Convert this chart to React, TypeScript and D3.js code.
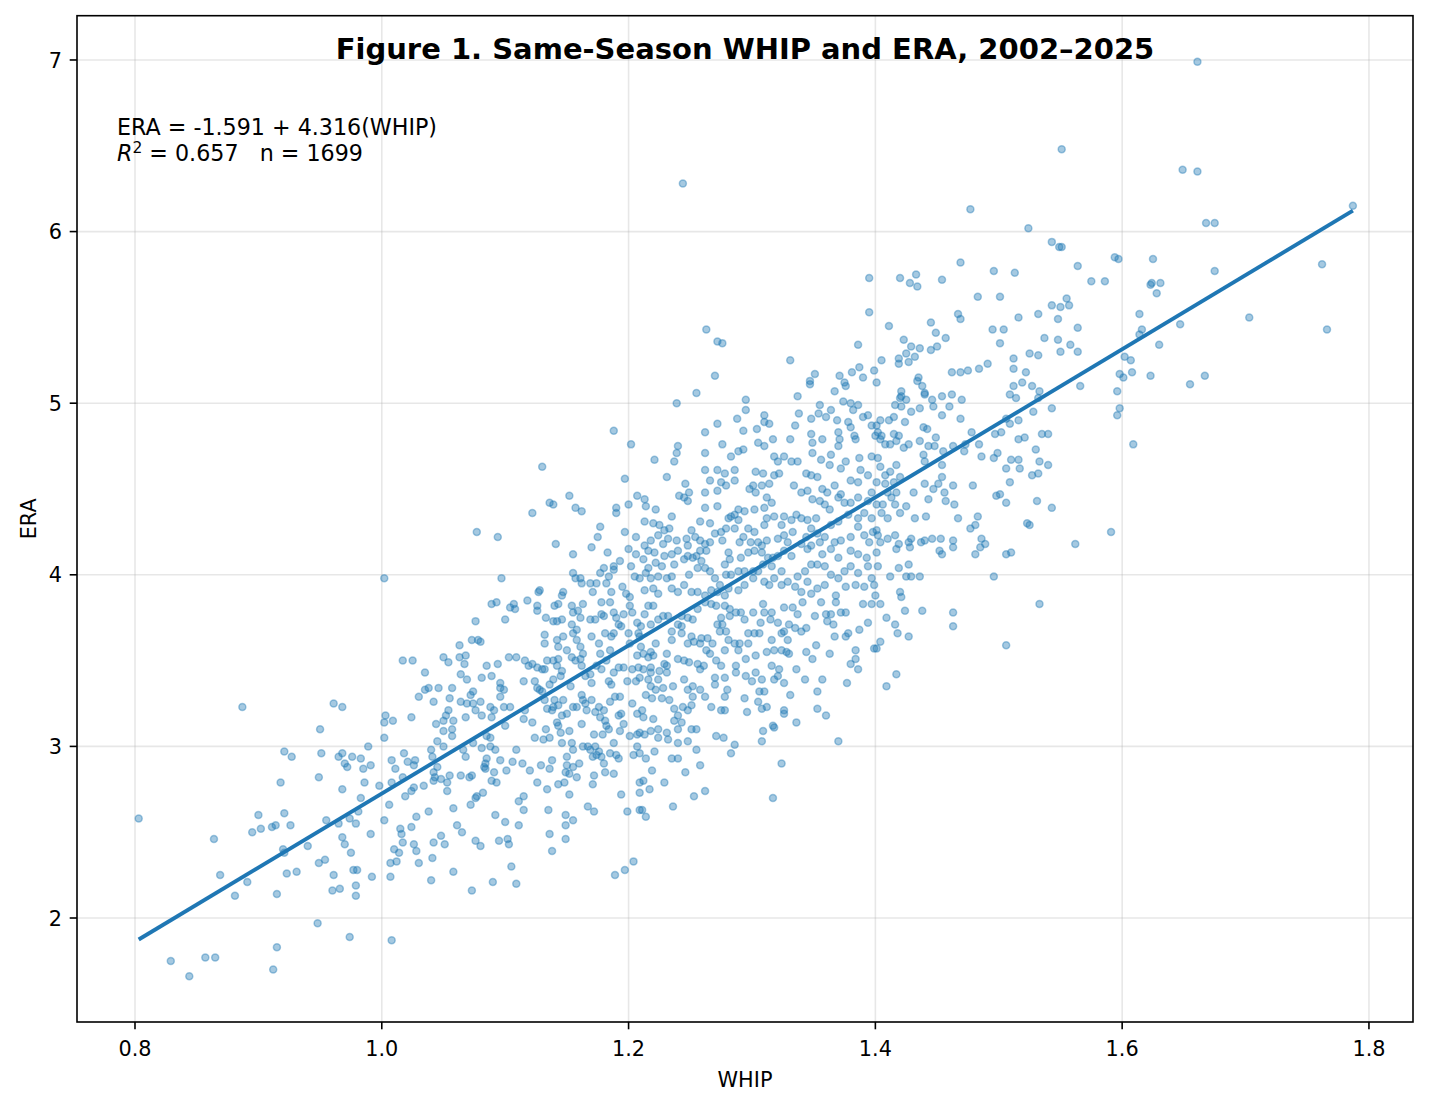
import React from 'react';
import * as d3 from 'd3';

type Pt = [number, number]; // [WHIP, ERA]

const W = 1429;
const H = 1108;
const plot = { left: 77, right: 1413, top: 15.7, bottom: 1022 };
const xDomain: [number, number] = [0.753, 1.8357];
const yDomain: [number, number] = [1.394, 7.258];
const xTicks = [0.8, 1.0, 1.2, 1.4, 1.6, 1.8];
const yTicks = [2, 3, 4, 5, 6, 7];
const intercept = -1.591;
const slope = 4.316;
const rSquared = 0.657;
const sampleSize = 1699;
const titleText = 'Figure 1. Same-Season WHIP and ERA, 2002–2025';

const lowWhipSeasons: Pt[] = [
[0.803,2.58],[0.887,3.23],[0.961,3.25],[0.968,3.23],[1.003,3.18],[1.002,3.14],[1.009,3.15],[1.024,3.17],[1.030,3.29],[0.950,3.10],[1.002,3.05],[0.921,2.97],[0.927,2.94],[0.951,2.96],[0.965,2.94],[0.968,2.96],[0.970,2.90],[0.972,2.88],[0.976,2.94],[0.983,2.93],[0.985,2.87],[0.991,2.89],[0.989,3.00],[1.008,2.92],[1.011,2.87],[1.018,2.96],[1.021,2.91],[1.026,2.89],[1.027,2.92],[0.949,2.82],[0.918,2.79],[0.968,2.75],[0.986,2.79],[0.998,2.77],[1.008,2.79],[1.017,2.82],[1.026,2.76],[0.983,2.70],[1.006,2.66],[1.019,2.71],[1.024,2.74],[0.981,2.62],[1.028,2.59],[0.900,2.60],[0.921,2.61],[0.895,2.50],[0.902,2.52],[0.911,2.53],[0.914,2.54],[0.926,2.54],[0.864,2.46],[0.955,2.57],[0.965,2.55],[0.974,2.58],[0.979,2.55],[1.002,2.57],[0.940,2.42],[0.920,2.40],[0.921,2.38],[0.968,2.47],[0.970,2.43],[0.975,2.38],[0.991,2.49],[1.015,2.52],[1.024,2.53],[1.016,2.49],[1.017,2.44],[1.026,2.43],[1.028,2.39],[1.010,2.40],[1.014,2.38],[1.012,2.33],[1.007,2.32],[1.030,2.32],[0.949,2.32],[0.954,2.34],[0.977,2.28],[0.980,2.28],[0.992,2.24],[1.007,2.24],[0.869,2.25],[0.891,2.21],[0.923,2.26],[0.931,2.27],[0.961,2.25],[0.881,2.13],[0.915,2.14],[0.960,2.16],[0.966,2.17],[0.979,2.19],[0.979,2.13],[0.948,1.97],[0.974,1.89],[1.008,1.87],[0.915,1.83],[0.829,1.75],[0.857,1.77],[0.865,1.77],[0.844,1.66],[0.912,1.70],[1.002,3.98],[1.017,3.50]
];

const whip102to121Lower: Pt[] = [
[1.073,2.16],[1.090,2.21],[1.109,2.20],[1.040,2.22],[1.058,2.27],[1.105,2.30],[1.189,2.25],[1.197,2.28],[1.204,2.33],[1.041,2.35],[1.042,2.44],[1.048,2.48],[1.051,2.43],[1.076,2.45],[1.080,2.42],[1.095,2.45],[1.102,2.46],[1.103,2.43],[1.136,2.49],[1.138,2.39],[1.149,2.46],[1.149,2.54],[1.155,2.57],[1.149,2.60],[1.135,2.63],[1.111,2.54],[1.100,2.56],[1.092,2.60],[1.061,2.54],[1.065,2.50],[1.038,2.62],[1.058,2.64],[1.072,2.66],[1.076,2.70],[1.077,2.71],[1.082,2.73],[1.111,2.68],[1.115,2.71],[1.115,2.63],[1.167,2.65],[1.172,2.62],[1.199,2.62],[1.209,2.63],[1.194,2.72],[1.152,2.72],[1.134,2.75],[1.126,2.79],[1.143,2.78],[1.148,2.79],[1.171,2.78],[1.172,2.83],[1.158,2.82],[1.152,2.84],[1.149,2.85],[1.155,2.88],[1.160,2.90],[1.150,2.89],[1.138,2.92],[1.136,2.87],[1.129,2.89],[1.120,2.86],[1.114,2.90],[1.106,2.91],[1.101,2.86],[1.096,2.92],[1.093,2.79],[1.089,2.80],[1.091,2.85],[1.084,2.87],[1.083,2.88],[1.084,2.90],[1.085,2.93],[1.073,2.83],[1.071,2.82],[1.064,2.83],[1.055,2.83],[1.053,2.79],[1.053,2.74],[1.048,2.81],[1.043,2.82],[1.042,2.80],[1.034,2.77],[1.045,2.88],[1.042,2.85],[1.188,2.84],[1.181,2.85],[1.180,2.90],[1.190,2.95],[1.192,2.93],[1.185,2.96],[1.174,2.95],[1.169,2.98],[1.171,2.94],[1.178,2.94],[1.204,2.95],[1.209,2.96],[1.209,2.79],[1.209,2.73],
[1.066,2.98],[1.068,2.94],[1.074,3.02],[1.081,2.99],[1.088,3.00],[1.092,2.98],[1.085,3.06],[1.088,3.05],[1.050,3.00],[1.045,3.03],[1.040,2.98],[1.041,2.94],[1.109,2.98],[1.124,3.05],[1.131,3.04],[1.133,3.10],[1.136,3.05],[1.143,3.12],[1.145,3.08],[1.146,3.02],[1.152,3.09],[1.154,3.02],[1.155,2.98],[1.150,2.94],[1.163,3.00],[1.167,3.00],[1.172,3.07],[1.179,3.07],[1.193,3.09],[1.188,3.02],[1.201,3.06],[1.207,3.07],[1.207,3.00],[1.173,3.00],[1.176,2.97]
];

const whip102to121Upper: Pt[] = [
[1.044,3.13],[1.050,3.09],[1.057,3.10],[1.057,3.06],[1.050,3.15],[1.052,3.18],[1.058,3.15],[1.054,3.21],[1.042,3.26],[1.035,3.33],[1.038,3.34],[1.046,3.34],[1.055,3.28],[1.057,3.34],[1.064,3.26],[1.068,3.17],[1.069,3.25],[1.072,3.30],[1.074,3.32],[1.074,3.25],[1.076,3.21],[1.080,3.26],[1.081,3.18],[1.088,3.23],[1.091,3.21],[1.089,3.17],[1.096,3.29],[1.096,3.34],[1.099,3.33],[1.096,3.37],[1.100,3.12],[1.099,3.23],[1.104,3.23],[1.115,3.38],[1.116,3.21],[1.115,3.16],[1.122,3.14],[1.124,3.38],[1.126,3.34],[1.128,3.33],[1.130,3.32],[1.132,3.27],[1.134,3.22],[1.138,3.21],[1.140,3.27],[1.139,3.23],[1.143,3.24],[1.147,3.27],[1.146,3.18],[1.142,3.14],[1.150,3.19],[1.153,3.35],[1.155,3.23],[1.158,3.23],[1.162,3.30],[1.163,3.27],[1.165,3.25],[1.162,3.13],[1.166,3.21],[1.170,3.27],[1.173,3.20],[1.176,3.23],[1.177,3.17],[1.180,3.21],[1.181,3.15],[1.182,3.12],[1.184,3.10],[1.185,3.26],[1.189,3.29],[1.192,3.18],[1.194,3.19],[1.196,3.13],[1.193,3.29],[1.203,3.25],[1.207,3.19],
[1.025,3.50],[1.035,3.43],[1.050,3.52],[1.054,3.49],[1.063,3.52],[1.067,3.48],[1.068,3.53],[1.064,3.42],[1.069,3.39],[1.081,3.40],[1.085,3.47],[1.089,3.41],[1.094,3.48],[1.103,3.52],[1.109,3.52],[1.116,3.50],[1.119,3.47],[1.122,3.48],[1.126,3.46],[1.130,3.45],[1.132,3.45],[1.134,3.50],[1.139,3.50],[1.142,3.47],[1.143,3.51],[1.146,3.44],[1.145,3.41],[1.139,3.39],[1.136,3.36],[1.150,3.56],[1.154,3.52],[1.157,3.50],[1.161,3.51],[1.162,3.47],[1.163,3.54],[1.165,3.41],[1.169,3.42],[1.170,3.37],[1.174,3.47],[1.177,3.54],[1.178,3.45],[1.182,3.50],[1.184,3.38],[1.186,3.36],[1.188,3.43],[1.192,3.46],[1.196,3.46],[1.199,3.38],[1.203,3.45],[1.206,3.38],[1.208,3.46],[1.207,3.53],[1.185,3.56],
[1.076,3.73],[1.073,3.62],[1.078,3.62],[1.080,3.61],[1.063,3.59],[1.089,3.83],[1.093,3.84],[1.100,3.74],[1.104,3.81],[1.108,3.80],[1.107,3.83],[1.118,3.85],[1.126,3.82],[1.126,3.79],[1.133,3.75],[1.132,3.65],[1.132,3.60],[1.142,3.62],[1.143,3.58],[1.147,3.64],[1.142,3.73],[1.139,3.73],[1.146,3.74],[1.140,3.82],[1.143,3.83],[1.154,3.82],[1.155,3.78],[1.159,3.79],[1.161,3.75],[1.163,3.83],[1.154,3.71],[1.155,3.66],[1.158,3.62],[1.161,3.58],[1.169,3.74],[1.170,3.64],[1.173,3.74],[1.176,3.60],[1.178,3.77],[1.180,3.76],[1.178,3.84],[1.185,3.84],[1.188,3.78],[1.190,3.75],[1.192,3.71],[1.194,3.70],[1.196,3.77],[1.188,3.66],[1.186,3.64],[1.181,3.66],[1.201,3.82],[1.203,3.78],[1.207,3.72],[1.208,3.66],[1.200,3.66],[1.201,3.60],[1.158,3.68]
];

const whip101to121High: Pt[] = [
[1.188,4.84],[1.202,4.76],[1.130,4.63],[1.197,4.56],[1.152,4.46],[1.136,4.42],[1.139,4.41],[1.207,4.46],[1.157,4.39],[1.162,4.37],[1.190,4.39],[1.190,4.36],[1.200,4.41],[1.122,4.36],[1.077,4.25],[1.094,4.22],[1.141,4.18],[1.177,4.28],[1.175,4.22],[1.170,4.16],[1.155,4.12],[1.183,4.13],[1.197,4.25],[1.206,4.22],[1.200,4.15],[1.206,4.12],[1.193,4.08],[1.202,4.05],[1.205,3.99],[1.188,4.05],[1.188,4.03],[1.180,4.04],[1.177,4.01],[1.184,3.99],[1.182,3.95],[1.097,3.98],[1.155,4.01],[1.157,3.98],[1.161,3.98],[1.162,3.95],[1.169,3.95],[1.174,3.95],[1.128,3.91],[1.127,3.90],[1.147,3.90],[1.146,3.88],[1.171,3.90],[1.186,3.90],[1.195,3.93],[1.198,3.89],[1.201,3.87]
];

const whip121to140Low: Pt[] = [
[1.214,2.59],[1.211,2.63],[1.236,2.65],[1.253,2.71],[1.262,2.74],[1.317,2.70],[1.324,2.90],[1.229,2.79],[1.217,2.75],[1.212,2.80],[1.219,2.86],[1.246,2.85],[1.258,2.89],[1.235,2.93],[1.240,2.93],[1.214,2.93],[1.221,2.97],[1.255,2.98],[1.283,2.96],[1.286,3.01],[1.271,3.06],[1.277,3.05],[1.308,3.03],[1.309,3.09],[1.370,3.03],[1.336,3.14],[1.317,3.12],[1.318,3.11],[1.326,3.19],[1.326,3.21],[1.296,3.20],[1.308,3.22],[1.312,3.23],[1.305,3.26],[1.278,3.21],[1.275,3.21],[1.267,3.23],[1.278,3.29],[1.280,3.33],[1.294,3.28],[1.306,3.32],[1.310,3.32],[1.331,3.30],[1.353,3.32],[1.353,3.22],[1.360,3.18],[1.377,3.37],[1.357,3.39],[1.343,3.39],[1.326,3.37],[1.318,3.39],[1.321,3.41],[1.316,3.47],[1.322,3.45],[1.308,3.39],[1.300,3.38],[1.303,3.43],[1.295,3.41],[1.287,3.43],[1.278,3.40],[1.275,3.47],[1.271,3.50],[1.270,3.40],[1.270,3.36],[1.262,3.29],[1.258,3.33],[1.252,3.29],[1.251,3.24],[1.244,3.23],[1.237,3.22],[1.233,3.27],[1.227,3.28],[1.219,3.28],[1.214,3.30],[1.211,3.21],[1.212,3.17],[1.220,3.16],[1.224,3.10],[1.209,3.08],[1.213,3.07],[1.218,3.09],[1.231,3.08],[1.232,3.04],[1.224,3.05],[1.240,3.02],[1.248,3.03],[1.251,3.10],[1.255,3.10],[1.240,3.10],[1.243,3.14],[1.237,3.15],[1.240,3.18],[1.248,3.21],[1.252,3.35],[1.245,3.39],[1.248,3.33],[1.236,3.35],[1.228,3.34],[1.222,3.33],[1.218,3.35],[1.224,3.39],[1.216,3.39],[1.209,3.40],[1.212,3.45],[1.218,3.43],[1.225,3.44],[1.231,3.43],[1.231,3.47],[1.229,3.48],[1.218,3.46],[1.216,3.52],[1.220,3.53],[1.218,3.55],[1.210,3.58],[1.212,3.54],[1.222,3.60],[1.231,3.54],[1.240,3.51],[1.245,3.50],[1.249,3.49],[1.256,3.48],[1.258,3.45],[1.261,3.47],[1.263,3.56],[1.258,3.60],[1.253,3.61],[1.259,3.63],[1.264,3.63],[1.266,3.54],[1.268,3.60],[1.278,3.56],[1.281,3.62],[1.286,3.60],[1.289,3.56],[1.290,3.60],[1.297,3.60],[1.287,3.47],[1.295,3.51],[1.303,3.53],[1.312,3.55],[1.318,3.56],[1.324,3.56],[1.328,3.55],[1.330,3.54],[1.336,3.45],[1.344,3.55],[1.349,3.51],[1.352,3.59],[1.363,3.54],[1.380,3.48],[1.384,3.51],[1.386,3.45],[1.384,3.56],[1.399,3.57],
[1.394,3.72],[1.387,3.68],[1.378,3.66],[1.376,3.64],[1.367,3.64],[1.366,3.71],[1.361,3.73],[1.360,3.77],[1.364,3.77],[1.372,3.78],[1.376,3.78],[1.368,3.84],[1.356,3.84],[1.351,3.76],[1.344,3.69],[1.340,3.67],[1.335,3.69],[1.330,3.71],[1.329,3.62],[1.326,3.67],[1.324,3.66],[1.316,3.62],[1.321,3.72],[1.315,3.74],[1.316,3.78],[1.326,3.81],[1.333,3.81],[1.341,3.84],[1.337,3.77],[1.309,3.83],[1.310,3.78],[1.307,3.72],[1.306,3.66],[1.302,3.66],[1.301,3.78],[1.294,3.74],[1.297,3.66],[1.291,3.78],[1.287,3.78],[1.282,3.76],[1.275,3.75],[1.276,3.71],[1.272,3.71],[1.274,3.67],[1.279,3.67],[1.282,3.80],[1.278,3.82],[1.271,3.82],[1.267,3.83],[1.262,3.84],[1.256,3.80],[1.252,3.74],[1.248,3.75],[1.243,3.76],[1.243,3.70],[1.240,3.71],[1.235,3.67],[1.232,3.76],[1.228,3.76],[1.224,3.74],[1.218,3.71],[1.220,3.82],[1.216,3.82],[1.213,3.77],[1.210,3.70],[1.209,3.64],[1.235,3.62],[1.243,3.66],[1.248,3.60],[1.251,3.64],[1.390,3.83],[1.397,3.83]
];

const whip121to140Mid: Pt[] = [
[1.255,5.06],[1.239,5.00],[1.295,5.02],[1.295,4.96],[1.288,4.91],[1.272,4.88],[1.262,4.83],[1.293,4.84],[1.304,4.85],[1.310,4.93],[1.310,4.89],[1.314,4.88],[1.337,5.04],[1.347,5.11],[1.367,5.07],[1.376,5.10],[1.355,4.99],[1.354,4.94],[1.364,4.96],[1.360,4.92],[1.369,4.90],[1.374,5.01],[1.380,5.00],[1.386,4.99],[1.382,4.96],[1.378,4.89],[1.380,4.86],[1.390,4.92],[1.394,4.93],[1.397,4.87],[1.400,4.81],[1.383,4.81],[1.384,4.79],[1.370,4.83],[1.371,4.79],[1.370,4.75],[1.364,4.70],[1.357,4.79],[1.348,4.82],[1.349,4.77],[1.349,4.71],[1.356,4.67],[1.363,4.64],[1.348,4.91],[1.338,4.94],[1.335,4.87],[1.331,4.79],[1.317,4.79],[1.310,4.75],[1.305,4.77],[1.318,4.69],[1.326,4.69],[1.332,4.66],[1.337,4.66],[1.321,4.66],[1.240,4.75],[1.239,4.71],[1.237,4.66],[1.221,4.67],[1.231,4.57],[1.262,4.71],[1.276,4.76],[1.283,4.69],[1.289,4.72],[1.293,4.73],[1.286,4.61],[1.286,4.55],[1.272,4.61],[1.278,4.59],[1.275,4.54],[1.279,4.52],[1.266,4.55],[1.262,4.61],[1.246,4.53],[1.249,4.48],[1.245,4.45],[1.248,4.43],[1.241,4.46],[1.262,4.48],[1.272,4.49],[1.272,4.40],[1.262,4.39],[1.303,4.60],[1.309,4.59],[1.318,4.58],[1.322,4.59],[1.314,4.53],[1.308,4.52],[1.301,4.52],[1.298,4.50],[1.303,4.48],[1.312,4.45],[1.316,4.42],[1.310,4.39],[1.302,4.38],[1.294,4.37],[1.289,4.38],[1.286,4.35],[1.283,4.34],[1.289,4.32],[1.281,4.33],[1.297,4.27],[1.302,4.25],[1.310,4.29],[1.312,4.33],[1.318,4.34],[1.326,4.34],[1.324,4.29],[1.332,4.32],[1.336,4.35],[1.340,4.33],[1.345,4.32],[1.334,4.52],[1.340,4.48],[1.345,4.49],[1.344,4.59],[1.348,4.58],[1.353,4.57],[1.357,4.50],[1.361,4.48],[1.367,4.52],[1.372,4.47],[1.375,4.42],[1.370,4.45],[1.380,4.55],[1.386,4.54],[1.388,4.61],[1.394,4.58],[1.397,4.69],[1.387,4.68],[1.376,4.66],[1.372,4.62],[1.397,4.48],[1.394,4.43],[1.386,4.45],[1.380,4.42],[1.363,4.38],[1.359,4.41],[1.355,4.43],[1.349,4.44],[1.352,4.33],[1.364,4.29],[1.370,4.31],[1.378,4.35],[1.386,4.33],[1.391,4.36],[1.397,4.33],[1.398,4.25],[1.395,4.19],[1.391,4.23],[1.386,4.28],[1.380,4.22],[1.372,4.20],[1.367,4.19],[1.359,4.22],[1.353,4.24],[1.348,4.27],[1.344,4.22],[1.348,4.17],[1.355,4.19],[1.357,4.12],[1.364,4.15],[1.370,4.10],[1.380,4.14],[1.386,4.12],[1.393,4.10],[1.394,4.05],[1.386,4.01],[1.380,4.05],[1.375,4.02],[1.370,3.98],[1.364,4.00],[1.359,4.05],[1.353,4.06],[1.348,4.06],[1.343,4.02],[1.337,3.99],[1.335,3.93],[1.329,3.96],[1.324,4.02],[1.316,4.05],[1.313,4.10],[1.308,4.13],[1.302,4.14],[1.297,4.13],[1.291,4.10],[1.281,4.13],[1.282,4.09],[1.278,4.06],[1.279,4.00],[1.283,4.00],[1.289,4.02],[1.294,4.02],[1.301,4.02],[1.305,4.02],[1.310,3.96],[1.314,3.94],[1.318,3.98],[1.324,3.94],[1.301,3.98],[1.294,3.94],[1.289,3.91],[1.281,3.92],[1.274,3.94],[1.270,3.98],[1.266,4.02],[1.262,4.04],[1.256,4.04],[1.255,4.11],[1.259,4.08],[1.252,4.10],[1.248,4.11],[1.245,4.09],[1.240,4.14],[1.239,4.20],[1.232,4.21],[1.228,4.18],[1.224,4.23],[1.225,4.29],[1.229,4.26],[1.233,4.27],[1.235,4.34],[1.222,4.38],[1.214,4.40],[1.213,4.44],[1.220,4.30],[1.213,4.31],[1.213,4.17],[1.218,4.20],[1.216,4.14],[1.221,4.13],[1.222,4.07],[1.227,4.05],[1.229,4.11],[1.235,4.12],[1.237,4.06],[1.235,3.99],[1.231,3.98],[1.224,3.99],[1.218,3.98],[1.214,4.01],[1.212,4.09],[1.216,4.04],[1.209,3.98],[1.213,3.91],[1.220,3.92],[1.224,3.89],[1.235,3.92],[1.240,3.90],[1.245,3.94],[1.251,3.90],[1.249,4.00],[1.258,4.20],[1.262,4.18],[1.266,4.19],[1.270,4.24],[1.266,4.30],[1.258,4.31],[1.251,4.26],[1.254,4.22],[1.247,4.21],[1.248,4.17],[1.258,4.14],[1.263,4.14],[1.275,4.25],[1.276,4.20],[1.279,4.27],[1.286,4.27],[1.293,4.22],[1.290,4.19],[1.299,4.19],[1.305,4.19],[1.312,4.20],[1.321,4.21],[1.326,4.23],[1.329,4.19],[1.333,4.25],[1.340,4.18],[1.345,4.15],[1.332,4.11],[1.326,4.14],[1.321,4.11],[1.317,4.10],[1.309,4.06],[1.308,4.17],[1.384,3.94],[1.376,3.93],[1.359,3.94],[1.353,3.92],[1.345,3.96],[1.348,3.89],[1.340,3.90],[1.368,3.88],[1.397,3.98],[1.399,3.94],[1.391,3.93],[1.272,3.90],[1.267,3.91],[1.262,3.88],[1.256,3.90],[1.278,3.88]
];

const whip121to140High: Pt[] = [
[1.244,6.28],[1.395,5.73],[1.395,5.53],[1.263,5.43],[1.272,5.36],[1.276,5.35],[1.386,5.34],[1.331,5.25],[1.270,5.16],[1.351,5.17],[1.347,5.13],[1.371,5.16],[1.375,5.12],[1.381,5.18],[1.387,5.21],[1.390,5.15],[1.399,5.19],[1.401,5.12]
];

const whip140to160Mid: Pt[] = [
[1.416,4.99],[1.421,4.98],[1.420,5.03],[1.425,5.02],[1.440,5.05],[1.446,5.02],[1.447,4.98],[1.454,5.04],[1.462,5.05],[1.460,4.98],[1.470,5.02],[1.454,4.93],[1.469,4.91],[1.436,4.97],[1.429,4.95],[1.415,4.92],[1.411,4.90],[1.404,4.90],[1.401,4.87],[1.402,4.83],[1.405,4.81],[1.404,4.79],[1.408,4.76],[1.412,4.76],[1.415,4.82],[1.419,4.81],[1.417,4.78],[1.424,4.89],[1.423,4.74],[1.427,4.76],[1.436,4.78],[1.439,4.86],[1.442,4.85],[1.443,4.75],[1.448,4.75],[1.449,4.80],[1.439,4.70],[1.440,4.66],[1.454,4.64],[1.455,4.72],[1.463,4.75],[1.472,4.72],[1.473,4.76],[1.478,4.83],[1.484,4.76],[1.486,4.69],[1.496,4.68],[1.499,4.71],[1.497,4.82],[1.502,4.83],[1.506,4.91],[1.509,4.88],[1.516,4.90],[1.514,5.03],[1.509,5.05],[1.528,4.95],[1.532,5.03],[1.543,4.97],[1.535,4.82],[1.540,4.82],[1.521,4.80],[1.516,4.79],[1.530,4.73],[1.533,4.66],[1.540,4.64],[1.532,4.59],[1.527,4.58],[1.517,4.62],[1.516,4.67],[1.510,4.67],[1.506,4.62],[1.509,4.54],[1.501,4.47],[1.498,4.46],[1.506,4.42],[1.531,4.43],[1.543,4.39],[1.523,4.30],[1.525,4.29],[1.562,4.18],
[1.402,4.68],[1.404,4.63],[1.401,4.54],[1.408,4.58],[1.412,4.60],[1.417,4.64],[1.420,4.57],[1.415,4.54],[1.408,4.53],[1.410,4.48],[1.417,4.48],[1.413,4.45],[1.406,4.41],[1.401,4.41],[1.405,4.36],[1.410,4.33],[1.416,4.41],[1.420,4.36],[1.425,4.40],[1.431,4.48],[1.440,4.53],[1.447,4.50],[1.451,4.53],[1.454,4.57],[1.456,4.48],[1.457,4.43],[1.463,4.52],[1.464,4.41],[1.443,4.44],[1.432,4.33],[1.441,4.34],[1.467,4.33],[1.479,4.52],[1.483,4.34],[1.481,4.29],[1.477,4.27],[1.463,4.20],[1.463,4.16],[1.453,4.21],[1.452,4.14],[1.454,4.12],[1.446,4.21],[1.440,4.20],[1.437,4.19],[1.429,4.21],[1.427,4.19],[1.428,4.16],[1.419,4.18],[1.417,4.15],[1.410,4.21],[1.401,4.26],[1.402,4.23],[1.416,4.23],[1.404,4.19],[1.401,4.13],[1.486,4.21],[1.489,4.18],[1.485,4.16],[1.481,4.12],[1.506,4.12],[1.510,4.13],[1.496,3.99],[1.533,3.83],[1.506,3.59],[1.463,3.78],[1.463,3.70],[1.438,3.79],[1.427,4.06],[1.419,4.04],[1.412,3.99],[1.402,4.05],[1.425,3.99],[1.429,3.99],[1.436,3.99],[1.420,3.90],[1.421,3.87],[1.404,3.83],[1.400,3.88],[1.424,3.79],[1.409,3.75],[1.416,3.71],[1.418,3.66],[1.427,3.64],[1.404,3.61],[1.401,3.57],[1.417,3.42],[1.409,3.35]
];

const whip140to160High: Pt[] = [
[1.477,6.13],[1.524,6.02],[1.543,5.94],[1.549,5.91],[1.551,5.91],[1.564,5.80],[1.575,5.71],[1.586,5.71],[1.594,5.85],[1.469,5.82],[1.496,5.77],[1.513,5.76],[1.420,5.73],[1.428,5.70],[1.433,5.75],[1.434,5.68],[1.454,5.72],[1.483,5.62],[1.501,5.62],[1.467,5.52],[1.469,5.49],[1.445,5.47],[1.411,5.45],[1.449,5.41],[1.457,5.38],[1.423,5.37],[1.429,5.33],[1.436,5.32],[1.445,5.31],[1.450,5.33],[1.425,5.29],[1.419,5.26],[1.419,5.23],[1.427,5.24],[1.432,5.27],[1.405,5.25],[1.495,5.43],[1.504,5.43],[1.501,5.35],[1.516,5.50],[1.532,5.52],[1.543,5.57],[1.550,5.56],[1.555,5.61],[1.557,5.57],[1.548,5.49],[1.564,5.44],[1.537,5.38],[1.548,5.37],[1.558,5.34],[1.564,5.30],[1.550,5.30],[1.525,5.29],[1.532,5.28],[1.512,5.26],[1.512,5.20],[1.522,5.18],[1.491,5.23],[1.484,5.20],[1.475,5.19],[1.469,5.18],[1.462,5.18],[1.435,5.15],[1.434,5.13],[1.438,5.10],[1.440,5.06],[1.421,5.07],[1.421,5.04],[1.512,5.10],[1.519,5.12],[1.527,5.10],[1.533,5.07],[1.566,5.10],[1.551,6.48]
];

const highWhipSeasons: Pt[] = [
[1.661,6.99],[1.649,6.36],[1.661,6.35],[1.787,6.15],[1.668,6.05],[1.675,6.05],[1.597,5.84],[1.625,5.84],[1.675,5.77],[1.762,5.81],[1.624,5.70],[1.623,5.69],[1.631,5.70],[1.628,5.64],[1.614,5.52],[1.647,5.46],[1.703,5.50],[1.616,5.43],[1.766,5.43],
[1.614,5.40],[1.630,5.34],[1.602,5.27],[1.607,5.25],[1.598,5.17],[1.601,5.15],[1.608,5.18],[1.623,5.16],[1.655,5.11],[1.667,5.16],[1.596,5.07],[1.598,4.97],[1.596,4.93],[1.609,4.76],[1.591,4.25]
];

const BLUE = '#1f77b4';
const FONT = "'DejaVu Sans', Verdana, sans-serif";

export default function App() {
  const seasons: Pt[] = [
    ...lowWhipSeasons,
    ...whip102to121Lower,
    ...whip102to121Upper,
    ...whip101to121High,
    ...whip121to140Low,
    ...whip121to140Mid,
    ...whip121to140High,
    ...whip140to160Mid,
    ...whip140to160High,
    ...highWhipSeasons,
  ];

  const x = d3.scaleLinear().domain(xDomain).range([plot.left, plot.right]);
  const y = d3.scaleLinear().domain(yDomain).range([plot.bottom, plot.top]);

  const [wMin, wMax] = d3.extent(seasons, (d) => d[0]) as [number, number];
  const fitLine = d3
    .line<number>()
    .x((w) => x(w))
    .y((w) => y(intercept + slope * w));

  const tickLen = 7.3;
  const fontSize = 20.8;
  const noteSize = 22.2;

  return (
    <svg
      width={W}
      height={H}
      viewBox={`0 0 ${W} ${H}`}
      style={{ position: 'absolute', left: 0, top: 0, background: '#fff' }}
      fontFamily={FONT}
    >
      <rect x={0} y={0} width={W} height={H} fill="#fff" />
      <g>
        {xTicks.map((t) => (
          <line key={`gx${t}`} x1={x(t)} x2={x(t)} y1={plot.top} y2={plot.bottom} stroke="#b0b0b0" strokeOpacity={0.3} strokeWidth={1.6} />
        ))}
        {yTicks.map((t) => (
          <line key={`gy${t}`} x1={plot.left} x2={plot.right} y1={y(t)} y2={y(t)} stroke="#b0b0b0" strokeOpacity={0.3} strokeWidth={1.6} />
        ))}
      </g>
      <g>
        {seasons.map((d, i) => (
          <circle
            key={i}
            cx={x(d[0])}
            cy={y(d[1])}
            r={3.5}
            fill={BLUE}
            fillOpacity={0.4}
            stroke={BLUE}
            strokeOpacity={0.4}
            strokeWidth={1.5}
          />
        ))}
      </g>
      <path d={fitLine([wMin, wMax]) || ''} fill="none" stroke={BLUE} strokeWidth={3.9} />
      <rect
        x={plot.left}
        y={plot.top}
        width={plot.right - plot.left}
        height={plot.bottom - plot.top}
        fill="none"
        stroke="#000"
        strokeWidth={1.6}
      />
      <g>
        {xTicks.map((t) => (
          <g key={`tx${t}`}>
            <line x1={x(t)} x2={x(t)} y1={plot.bottom} y2={plot.bottom + tickLen} stroke="#000" strokeWidth={1.6} />
            <text x={x(t)} y={plot.bottom + 34} textAnchor="middle" fontSize={fontSize} fill="#000">
              {d3.format('.1f')(t)}
            </text>
          </g>
        ))}
      </g>
      <g>
        {yTicks.map((t) => (
          <g key={`ty${t}`}>
            <line x1={plot.left - tickLen} x2={plot.left} y1={y(t)} y2={y(t)} stroke="#000" strokeWidth={1.6} />
            <text x={plot.left - 15} y={y(t) + 7.6} textAnchor="end" fontSize={fontSize} fill="#000">
              {d3.format('d')(t)}
            </text>
          </g>
        ))}
      </g>
      <text x={(plot.left + plot.right) / 2} y={1087} textAnchor="middle" fontSize={fontSize} fill="#000">
        WHIP
      </text>
      <text
        transform={`translate(36, ${(plot.top + plot.bottom) / 2}) rotate(-90)`}
        textAnchor="middle"
        fontSize={fontSize}
        fill="#000"
      >
        ERA
      </text>
      <text x={(plot.left + plot.right) / 2} y={59} textAnchor="middle" fontSize={29} fontWeight="bold" fill="#000">
        {titleText}
      </text>
      <text x={117} y={135} fontSize={noteSize} fill="#000" style={{ whiteSpace: 'pre' }}>
        {`ERA = ${intercept.toFixed(3)} + ${slope.toFixed(3)}(WHIP)`}
      </text>
      <text x={117} y={161} fontSize={noteSize} fill="#000" style={{ whiteSpace: 'pre' }}>
        <tspan fontStyle="italic">R</tspan>
        <tspan fontSize={15.5} dy={-8.5}>2</tspan>
        <tspan dy={8.5}>{` = ${rSquared.toFixed(3)}   n = ${sampleSize}`}</tspan>
      </text>
    </svg>
  );
}
